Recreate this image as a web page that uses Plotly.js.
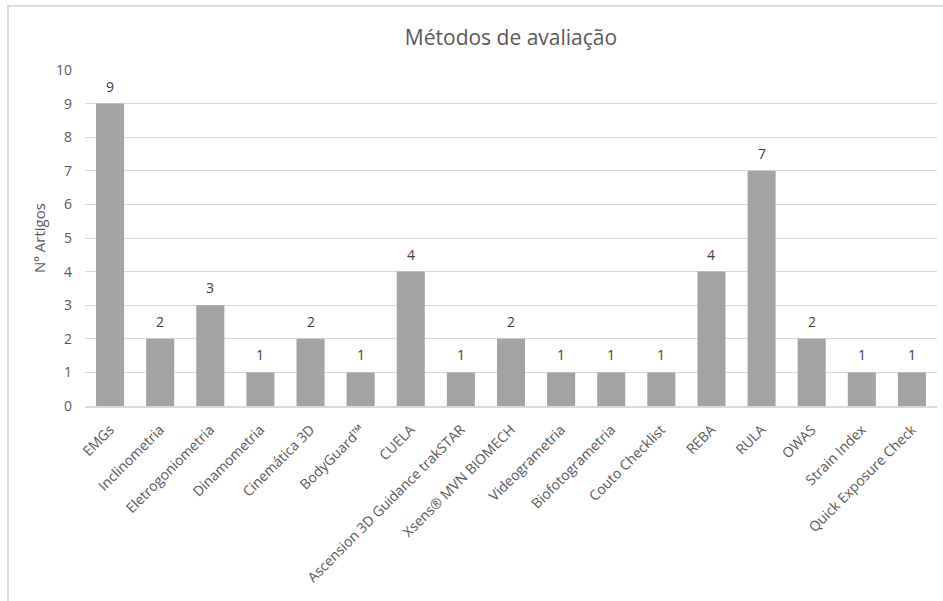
<!DOCTYPE html>
<html>
<head>
<meta charset="utf-8">
<script src="https://cdn.plot.ly/plotly-3.0.1.min.js"></script>
<style>
html,body{margin:0;padding:0;background:#fff;}
#wrap{position:relative;width:943px;height:601px;}
#chart{position:absolute;left:0;top:0;width:943px;height:601px;}
#frame{position:absolute;left:7px;top:5px;width:940px;height:600px;border-left:2px solid #d9d9d9;border-top:2px solid #d9d9d9;pointer-events:none;}
</style>
</head>
<body>
<div id="wrap"><div id="chart"></div><div id="frame"></div></div>
<script>
const categories = ["EMGs","Inclinometria","Eletrogoniometria","Dinamometria","Cinemática 3D","BodyGuard™","CUELA","Ascension 3D Guidance trakSTAR","Xsens® MVN BIOMECH","Videogrametria","Biofotogrametria","Couto Checklist","REBA","RULA","OWAS","Strain Index","Quick Exposure Check"];
const values = [9,2,3,1,2,1,4,1,2,1,1,1,4,7,2,1,1];
const yTicks = [0,1,2,3,4,5,6,7,8,9,10];

const font = "Open Sans, Noto Sans, sans-serif";
const trace = {
  type: "bar",
  x: categories,
  y: values,
  marker: {color: "#a3a3a3", line: {width: 0}},
  hoverinfo: "x+y"
};
const annotations = categories.map((c, i) => ({
  x: c, y: values[i], xref: "x", yref: "y",
  text: String(values[i]), showarrow: false,
  yanchor: "bottom", yshift: 6,
  font: {family: font, size: 14, color: "#404040"}
}));
const layout = {
  width: 943, height: 601,
  margin: {l: 85, r: 6, t: 70, b: 195},
  paper_bgcolor: "#fff", plot_bgcolor: "#fff",
  bargap: 0.44,
  showlegend: false,
  annotations: annotations,
  title: {text: "Métodos de avaliação", font: {family: font, size: 21, color: "#595959"}, x: 0.5, xref: "paper", y: 0.937, yanchor: "middle"},
  xaxis: {
    tickangle: -45, tickfont: {family: font, size: 14, color: "#595959"},
    showgrid: false, showline: true, linecolor: "#d9d9d9", linewidth: 2, ticks: "", automargin: false,
    ticklabelstandoff: 8
  },
  yaxis: {
    range: [0, 10], tickvals: yTicks, ticktext: yTicks.map(String),
    tickfont: {family: font, size: 14, color: "#595959"},
    showgrid: true, gridcolor: "#d9d9d9", gridwidth: 1, zeroline: false, ticks: "", ticklen: 0,
    ticklabelstandoff: 12,
    title: {text: "Nº Artigos", font: {family: font, size: 15, color: "#595959"}, standoff: 6},
    automargin: false
  },
  font: {family: font}
};
Plotly.newPlot("chart", [trace], layout, {displayModeBar: false, staticPlot: true});
</script>
</body>
</html>
